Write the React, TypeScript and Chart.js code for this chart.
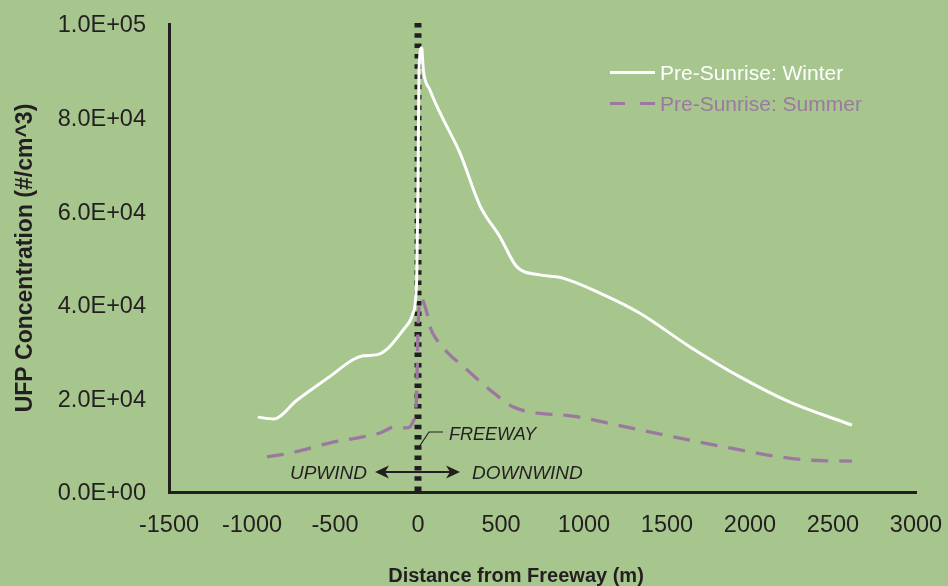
import { useEffect, useRef } from "react";
import { Chart, registerables } from "chart.js";

Chart.register(...registerables);

// ---- data ----
const winterX = [-965, -870, -730, -530, -390, -330, -250, -190, -90, -30, -8, 0, 6, 22, 32, 72, 133, 253, 373, 494, 596, 735, 873, 1096, 1337, 1639, 1940, 2241, 2614];
const winterY = [16000, 15600, 19600, 24700, 28300, 29100, 29300, 30400, 34600, 38200, 45300, 65000, 90000, 94900, 90200, 85900, 81000, 72400, 61200, 54500, 48100, 46400, 45700, 42500, 38200, 31000, 24600, 19200, 14300];

const summerX = [-910, -771, -530, -331, -229, -139, -66, -30, -12, -6, 0, 18, 54, 72, 114, 175, 295, 434, 572, 675, 934, 1175, 1536, 1940, 2181, 2361, 2614];
const summerY = [7500, 8300, 10500, 11800, 12600, 13900, 13700, 15000, 18200, 23900, 34600, 41400, 38200, 35300, 32500, 29900, 26100, 21800, 18200, 17100, 16200, 14500, 11800, 9000, 7500, 6800, 6600];

const seriesNames = ["Pre-Sunrise: Winter", "Pre-Sunrise: Summer"];
const xTicks = [-1500, -1000, -500, 0, 500, 1000, 1500, 2000, 2500, 3000];
const yTicks = [0, 20000, 40000, 60000, 80000, 100000];
const xTitle = "Distance from Freeway (m)";
const yTitle = "UFP Concentration (#/cm^3)";
const freewayLabel = "FREEWAY";
const upwindLabel = "UPWIND";
const downwindLabel = "DOWNWIND";

const BG = "#a6c68e";
const INK = "#231f20";
const WINTER = "#ffffff";
const SUMMER = "#9c78a1";
const FONT = "'Liberation Sans', Arial, Helvetica, sans-serif";

function fmtSci(v: number): string {
  if (v === 0) return "0.0E+00";
  const e = Math.floor(Math.log10(Math.abs(v)));
  const m = v / Math.pow(10, e);
  return m.toFixed(1) + "E" + (e < 0 ? "-" : "+") + String(Math.abs(e)).padStart(2, "0");
}

function zeroPadding(s: any) {
  s.paddingLeft = 0;
  s.paddingRight = 0;
  s.paddingTop = 0;
  s.paddingBottom = 0;
}

const decorPlugin = {
  id: "decor",
  beforeDatasetsDraw(chart: any) {
    const { ctx, scales } = chart;
    const xs = scales.x;
    const ys = scales.y;
    const x0 = xs.getPixelForValue(0);
    ctx.save();
    ctx.strokeStyle = INK;
    ctx.lineWidth = 7;
    ctx.setLineDash([4.5, 5.8]);
    ctx.beginPath();
    ctx.moveTo(x0, ys.top - 1);
    ctx.lineTo(x0, ys.bottom);
    ctx.stroke();
    ctx.restore();
  },
  afterDatasetsDraw(chart: any) {
    const { ctx, scales } = chart;
    const xs = scales.x;
    const ys = scales.y;
    const x0 = xs.getPixelForValue(0);
    const yB = ys.bottom;
    ctx.save();
    // leader line for FREEWAY
    ctx.strokeStyle = INK;
    ctx.lineWidth = 1.2;
    ctx.beginPath();
    ctx.moveTo(x0 + 1, yB - 45);
    ctx.lineTo(x0 + 11, yB - 60);
    ctx.lineTo(x0 + 25, yB - 60);
    ctx.stroke();
    // texts
    ctx.fillStyle = INK;
    ctx.font = `italic 18px ${FONT}`;
    ctx.textBaseline = "alphabetic";
    ctx.textAlign = "left";
    ctx.fillText(freewayLabel, x0 + 31, yB - 52.5);
    ctx.font = `italic 19px ${FONT}`;
    ctx.textAlign = "right";
    ctx.fillText(upwindLabel, x0 - 51, yB - 13.5);
    ctx.textAlign = "left";
    ctx.fillText(downwindLabel, x0 + 54, yB - 13.5);
    // double arrow
    const ay = yB - 20;
    const lx = x0 - 43;
    const rx = x0 + 42;
    ctx.lineWidth = 2;
    ctx.beginPath();
    ctx.moveTo(lx + 6, ay);
    ctx.lineTo(rx - 6, ay);
    ctx.stroke();
    const head = (tip: number, dir: number) => {
      ctx.beginPath();
      ctx.moveTo(tip, ay);
      ctx.lineTo(tip + dir * 14, ay - 6.5);
      ctx.lineTo(tip + dir * 10, ay);
      ctx.lineTo(tip + dir * 14, ay + 6.5);
      ctx.closePath();
      ctx.fill();
    };
    head(lx, 1);
    head(rx, -1);

    // legend
    const lgX = chart.chartArea.right - 306;
    const y1 = 72.5;
    const y2 = 103.5;
    ctx.lineWidth = 3;
    ctx.strokeStyle = WINTER;
    ctx.beginPath();
    ctx.moveTo(lgX, y1);
    ctx.lineTo(lgX + 45, y1);
    ctx.stroke();
    ctx.strokeStyle = SUMMER;
    ctx.setLineDash([15, 15]);
    ctx.beginPath();
    ctx.moveTo(lgX, y2);
    ctx.lineTo(lgX + 45, y2);
    ctx.stroke();
    ctx.setLineDash([]);
    ctx.font = `21px ${FONT}`;
    ctx.textAlign = "left";
    ctx.textBaseline = "alphabetic";
    ctx.fillStyle = WINTER;
    ctx.fillText(seriesNames[0], lgX + 50, y1 + 7);
    ctx.fillStyle = SUMMER;
    ctx.fillText(seriesNames[1], lgX + 50, y2 + 7);

    // x axis title
    ctx.fillStyle = INK;
    ctx.font = `bold 20px ${FONT}`;
    ctx.textAlign = "center";
    ctx.textBaseline = "alphabetic";
    ctx.fillText(xTitle, x0 + 98, yB + 90);
    ctx.restore();
  },
};

export default function App() {
  const ref = useRef<HTMLCanvasElement | null>(null);

  useEffect(() => {
    if (!ref.current) return;
    const chart = new Chart(ref.current, {
      type: "line",
      data: {
        datasets: [
          {
            label: seriesNames[0],
            data: winterX.map((x, i) => ({ x, y: winterY[i] })),
            borderColor: WINTER,
            borderWidth: 3,
            pointRadius: 0,
            cubicInterpolationMode: "monotone",
            fill: false,
          },
          {
            label: seriesNames[1],
            data: summerX.map((x, i) => ({ x, y: summerY[i] })),
            borderColor: SUMMER,
            borderWidth: 3.3,
            borderDash: [17, 11],
            pointRadius: 0,
            cubicInterpolationMode: "monotone",
            fill: false,
          },
        ],
      },
      options: {
        animation: false,
        responsive: false,
        maintainAspectRatio: false,
        layout: { padding: { left: 0, right: 32, top: 24, bottom: 0 } },
        plugins: {
          legend: { display: false },
          tooltip: { enabled: false },
        },
        scales: {
          x: {
            type: "linear",
            min: -1500,
            max: 3000,
            afterBuildTicks: (s: any) => {
              s.ticks = xTicks.map((v) => ({ value: v }));
            },
            afterFit: (s: any) => {
              s.height = 94;
              zeroPadding(s);
            },
            grid: { display: false, drawTicks: false },
            border: { display: true, color: INK, width: 3 },
            ticks: {
              color: INK,
              font: { family: FONT, size: 23.5 },
              padding: 19,
              maxRotation: 0,
              autoSkip: false,
              callback: (v: any) => String(v),
            },
            title: { display: false },
          },
          y: {
            type: "linear",
            min: 0,
            max: 100000,
            afterBuildTicks: (s: any) => {
              s.ticks = yTicks.map((v) => ({ value: v }));
            },
            afterFit: (s: any) => {
              s.width = 169;
              zeroPadding(s);
            },
            grid: { display: false, drawTicks: false },
            border: { display: true, color: INK, width: 3 },
            ticks: {
              color: INK,
              font: { family: FONT, size: 23.5 },
              padding: 23,
              labelOffset: 2,
              autoSkip: false,
              callback: (v: any) => fmtSci(Number(v)),
            },
            title: {
              display: true,
              text: yTitle,
              color: INK,
              font: { family: FONT, size: 23, weight: "bold" },
              padding: { top: 12, bottom: 0 },
            },
          },
        },
      },
      plugins: [decorPlugin],
    } as any);
    return () => chart.destroy();
  }, []);

  return (
    <div style={{ position: "fixed", left: 0, top: 0, width: 948, height: 586, background: BG }}>
      <canvas ref={ref} width={948} height={586} style={{ display: "block", width: 948, height: 586 }} />
    </div>
  );
}
